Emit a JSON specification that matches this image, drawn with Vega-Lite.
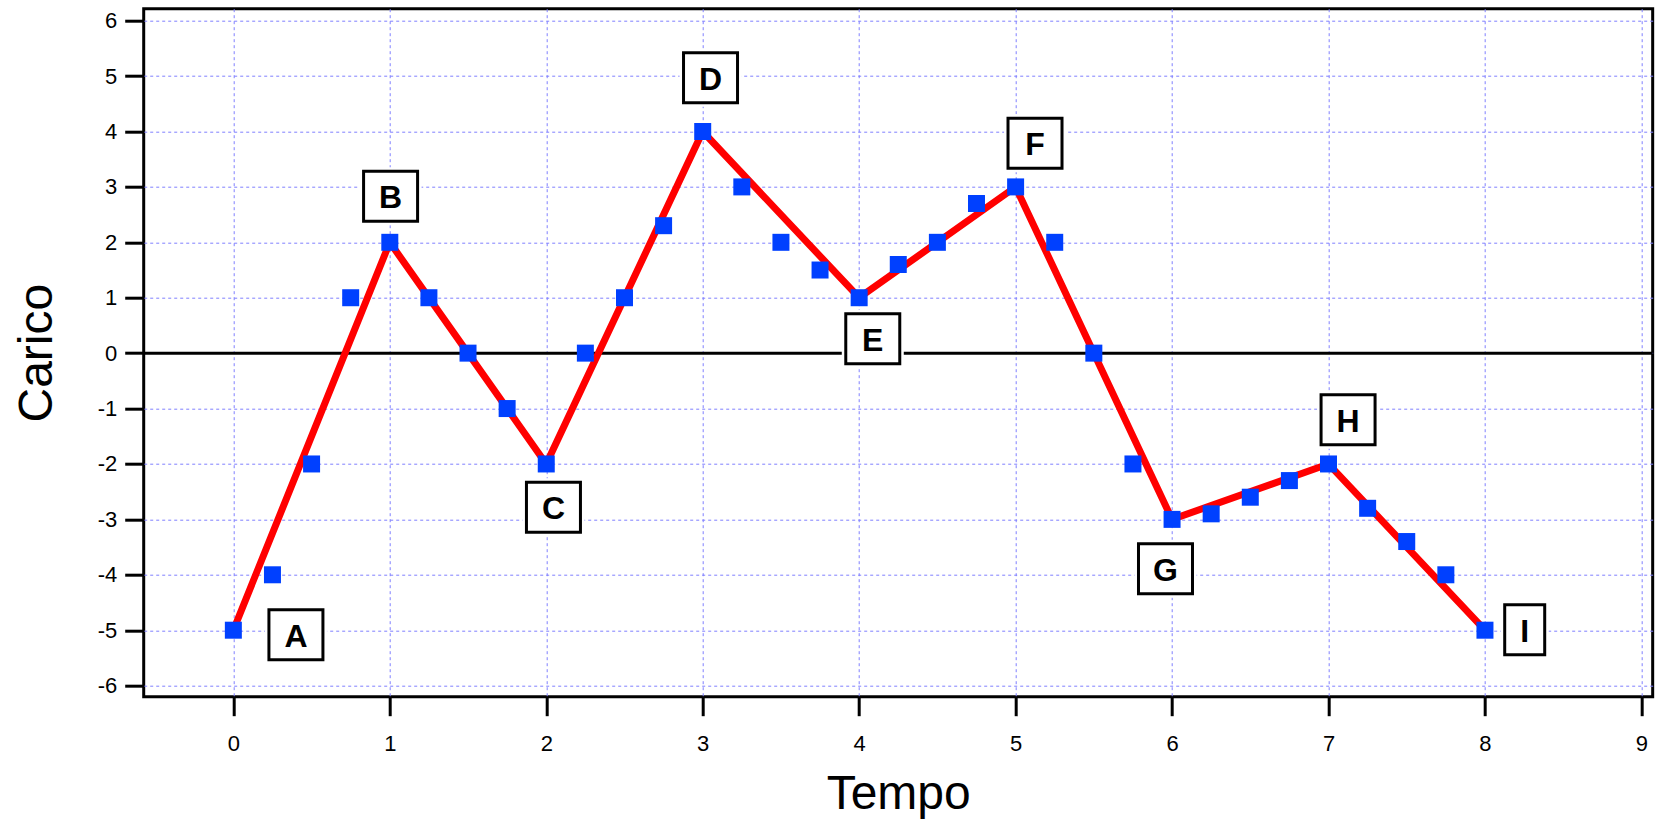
{
  "$schema": "https://vega.github.io/schema/vega-lite/v6.json",
  "autosize": "none",
  "padding": {"left": 143.7, "top": 8.7, "right": 5, "bottom": 125},
  "width": 1509,
  "height": 688,
  "background": "white",
  "config": {
    "view": {"stroke": "black", "strokeWidth": 3},
    "axis": {
      "domain": false,
      "tickColor": "black",
      "tickWidth": 3,
      "tickSize": 19,
      "labelFont": "Liberation Sans",
      "labelFontSize": 22,
      "labelColor": "black",
      "titleFont": "Liberation Sans",
      "titleFontSize": 48,
      "titleFontWeight": "normal",
      "titleColor": "black",
      "grid": true,
      "gridColor": "#7f7fff",
      "gridDash": [3, 3],
      "gridWidth": 1,
      "gridOpacity": 1
    }
  },
  "datasets": {
    "points": [
      {"x": 0, "y": -5}, {"x": 0.25, "y": -4}, {"x": 0.5, "y": -2}, {"x": 0.75, "y": 1},
      {"x": 1, "y": 2}, {"x": 1.25, "y": 1}, {"x": 1.5, "y": 0}, {"x": 1.75, "y": -1},
      {"x": 2, "y": -2}, {"x": 2.25, "y": 0}, {"x": 2.5, "y": 1}, {"x": 2.75, "y": 2.3},
      {"x": 3, "y": 4}, {"x": 3.25, "y": 3}, {"x": 3.5, "y": 2}, {"x": 3.75, "y": 1.5},
      {"x": 4, "y": 1}, {"x": 4.25, "y": 1.6}, {"x": 4.5, "y": 2}, {"x": 4.75, "y": 2.7},
      {"x": 5, "y": 3}, {"x": 5.25, "y": 2}, {"x": 5.5, "y": 0}, {"x": 5.75, "y": -2},
      {"x": 6, "y": -3}, {"x": 6.25, "y": -2.9}, {"x": 6.5, "y": -2.6}, {"x": 6.75, "y": -2.3},
      {"x": 7, "y": -2}, {"x": 7.25, "y": -2.8}, {"x": 7.5, "y": -3.4}, {"x": 7.75, "y": -4},
      {"x": 8, "y": -5}
    ],
    "vertices": [
      {"x": 0, "y": -5}, {"x": 1, "y": 2}, {"x": 2, "y": -2}, {"x": 3, "y": 4},
      {"x": 4, "y": 1}, {"x": 5, "y": 3}, {"x": 6, "y": -3}, {"x": 7, "y": -2}, {"x": 8, "y": -5}
    ],
    "labels": [
      {"label": "A", "x": 0.40, "y": -5.08},
      {"label": "B", "x": 1.005, "y": 2.83},
      {"label": "C", "x": 2.046, "y": -2.78},
      {"label": "D", "x": 3.05, "y": 4.97},
      {"label": "E", "x": 4.087, "y": 0.26},
      {"label": "F", "x": 5.124, "y": 3.79},
      {"label": "G", "x": 5.958, "y": -3.89},
      {"label": "H", "x": 7.125, "y": -1.2},
      {"label": "I", "x": 8.254, "y": -4.99}
    ],
    "zero": [{"y": 0}]
  },
  "layer": [
    {
      "data": {"name": "zero"},
      "mark": {"type": "rule", "color": "black", "strokeWidth": 3},
      "encoding": {
        "y": {
          "field": "y", "type": "quantitative",
          "scale": {"domain": [-6.2, 6.216], "nice": false, "zero": false},
          "axis": {
            "title": "Carico",
            "values": [-6, -5, -4, -3, -2, -1, 0, 1, 2, 3, 4, 5, 6],
            "labelExpr": "'' + datum.value",
            "labelPadding": 8,
            "titleAngle": 270,
            "titleX": -92.7,
            "titleY": 344,
            "titleAlign": "center",
            "titleBaseline": "alphabetic"
          }
        }
      }
    },
    {
      "data": {"name": "vertices"},
      "mark": {"type": "line", "color": "#ff0000", "strokeWidth": 7},
      "encoding": {
        "x": {
          "field": "x", "type": "quantitative",
          "scale": {"domain": [-0.573, 9.072], "nice": false, "zero": false},
          "axis": {
            "title": "Tempo",
            "values": [0, 1, 2, 3, 4, 5, 6, 7, 8, 9],
            "labelExpr": "'' + datum.value",
            "labelPadding": 17.5,
            "titleX": 754.5,
            "titleY": 111.6,
            "titleAlign": "center",
            "titleBaseline": "alphabetic"
          }
        },
        "y": {"field": "y", "type": "quantitative"}
      }
    },
    {
      "data": {"name": "points"},
      "mark": {"type": "square", "size": 289, "color": "#0040ff", "opacity": 1},
      "encoding": {
        "x": {"field": "x", "type": "quantitative"},
        "y": {"field": "y", "type": "quantitative"}
      }
    },
    {
      "data": {"name": "labels"},
      "mark": {"type": "point", "filled": true, "size": 2500, "fill": "white", "stroke": "white", "strokeWidth": 8, "opacity": 1},
      "encoding": {
        "x": {"field": "x", "type": "quantitative"},
        "y": {"field": "y", "type": "quantitative"},
        "shape": {
          "condition": {"test": "datum.label === 'I'", "value": "M-0.8,-1L0.8,-1L0.8,1L-0.8,1Z"},
          "value": "M-1.08,-1L1.08,-1L1.08,1L-1.08,1Z"
        }
      }
    },
    {
      "data": {"name": "labels"},
      "mark": {"type": "point", "filled": true, "size": 2500, "fill": "white", "stroke": "black", "strokeWidth": 3, "opacity": 1, "strokeOpacity": 1, "fillOpacity": 1},
      "encoding": {
        "x": {"field": "x", "type": "quantitative"},
        "y": {"field": "y", "type": "quantitative"},
        "shape": {
          "condition": {"test": "datum.label === 'I'", "value": "M-0.8,-1L0.8,-1L0.8,1L-0.8,1Z"},
          "value": "M-1.08,-1L1.08,-1L1.08,1L-1.08,1Z"
        }
      }
    },
    {
      "data": {"name": "labels"},
      "mark": {"type": "text", "font": "Liberation Sans", "fontWeight": "bold", "fontSize": 32, "align": "center", "baseline": "middle", "dy": 2, "color": "black"},
      "encoding": {
        "x": {"field": "x", "type": "quantitative"},
        "y": {"field": "y", "type": "quantitative"},
        "text": {"field": "label"}
      }
    }
  ]
}
